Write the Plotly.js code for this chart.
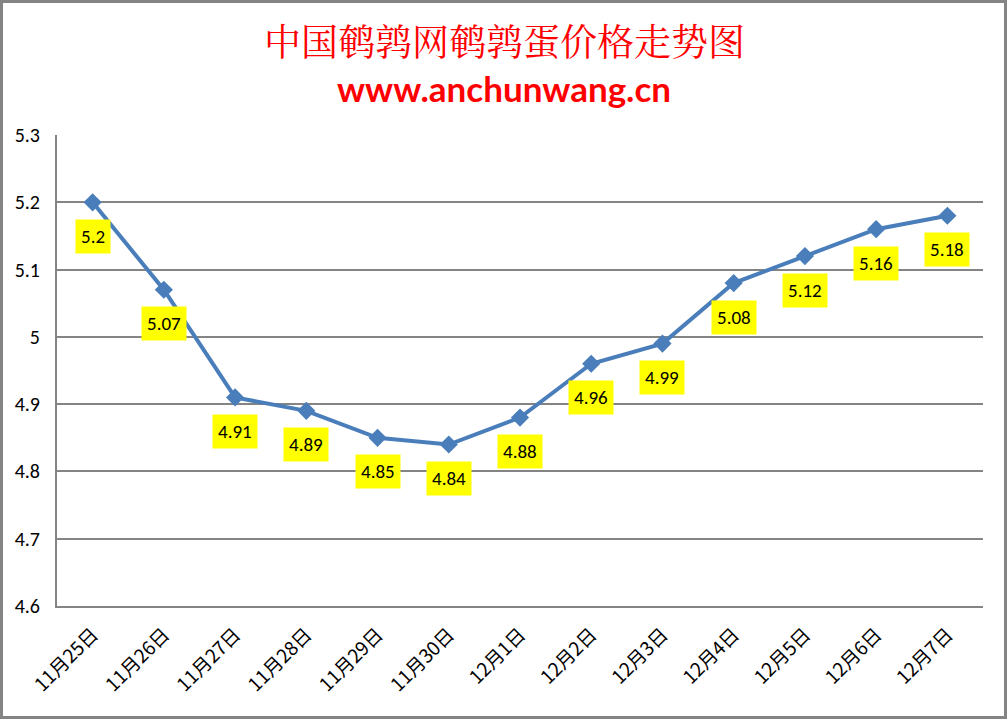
<!DOCTYPE html>
<html><head><meta charset="utf-8">
<script src="https://cdn.plot.ly/plotly-3.0.1.min.js"></script>
<style>
html,body{margin:0;padding:0;background:#fff;}
#chart{width:1001px;height:713px;border:3px solid #848484;}
</style></head>
<body><div id="chart"></div>
<script>
const categories = ["11月25日","11月26日","11月27日","11月28日","11月29日","11月30日","12月1日","12月2日","12月3日","12月4日","12月5日","12月6日","12月7日"];
const prices = [5.2, 5.07, 4.91, 4.89, 4.85, 4.84, 4.88, 4.96, 4.99, 5.08, 5.12, 5.16, 5.18];
const yTicks = [4.6, 4.7, 4.8, 4.9, 5, 5.1, 5.2, 5.3];
const titleText = "中国鹌鹑网鹌鹑蛋价格走势图";
const subtitleText = "www.anchunwang.cn";

const trace = {
  x: categories, y: prices, type: 'scatter', mode: 'lines+markers',
  line: {color: '#4A7EBB', width: 4},
  marker: {symbol: 'diamond', size: 14, color: '#4A7EBB'},
  hoverinfo: 'skip'
};

const annotations = categories.map((c, i) => ({
  x: c, y: prices[i], xref: 'x', yref: 'y',
  text: String(prices[i]), showarrow: true, arrowcolor: 'rgba(0,0,0,0)',
  ax: 0, ay: 34, bgcolor: '#FFFF00', borderpad: 5,
  font: {family: 'Carlito, "Liberation Sans", Arial, sans-serif', size: 19, color: '#000'}
}));
annotations.push({
  xref: 'paper', yref: 'paper', x: 0.483, y: 1.2017, xanchor: 'center', yanchor: 'middle',
  text: titleText, showarrow: false,
  font: {family: '"Noto Serif CJK SC","Noto Sans CJK SC", serif', size: 37, color: '#FF0000'}
});
annotations.push({
  xref: 'paper', yref: 'paper', x: 0.483, y: 1.0998, xanchor: 'center', yanchor: 'middle',
  text: '<b>' + subtitleText + '</b>', showarrow: false,
  font: {family: 'Lato, "Open Sans", sans-serif', size: 35, color: '#FF0000'}
});

const layout = {
  width: 1001, height: 713,
  margin: {l: 54, r: 21, t: 132, b: 110},
  paper_bgcolor: '#fff', plot_bgcolor: '#fff',
  showlegend: false,
  xaxis: {
    type: 'category', tickangle: -45, showgrid: false,
    showline: true, linecolor: '#848484', linewidth: 2,
    ticks: '', ticklabelstandoff: 8,
    tickfont: {family: '"Noto Sans CJK SC", sans-serif', size: 19, color: '#000'},
    range: [-0.5, categories.length - 0.5]
  },
  yaxis: {
    range: [4.6, 5.3], tickvals: yTicks, ticktext: yTicks.map(String),
    showgrid: true, gridcolor: '#848484', gridwidth: 2,
    showline: true, linecolor: '#848484', linewidth: 2, zeroline: false,
    ticks: '', ticklabelstandoff: 11,
    tickfont: {family: 'Carlito, "Liberation Sans", Arial, sans-serif', size: 20, color: '#000'}
  },
  annotations: annotations
};

Plotly.newPlot('chart', [trace], layout, {displayModeBar: false, staticPlot: true});
</script></body></html>
